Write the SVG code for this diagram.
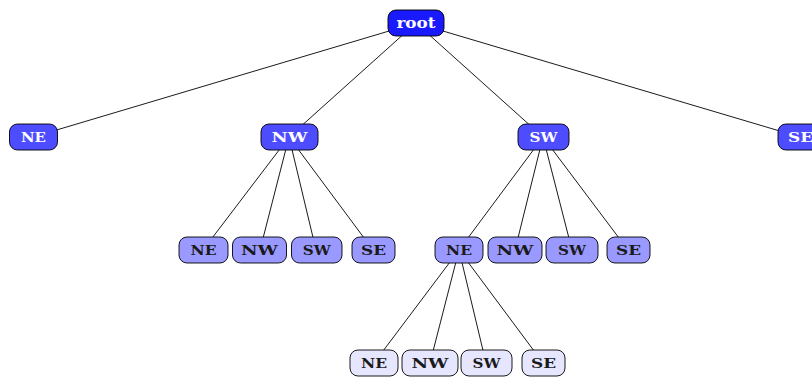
<svg xmlns="http://www.w3.org/2000/svg" width="812" height="377" viewBox="0 0 812 377">
  <style>
    .edge { stroke: #000; stroke-width: 0.9; fill: none; }
    .box { stroke: #000; stroke-width: 0.9; }
    .l0 { fill: #1a1aff; }
    .l1 { fill: #4d4dff; }
    .l2 { fill: #9999ff; }
    .l3 { fill: #e6e6ff; }
    text { font-family: "DejaVu Serif", "Liberation Serif", serif; font-weight: bold; font-size: 12.5px; text-anchor: middle; }
    .lt { fill: #fff; }
    .dt { fill: #1a1a1a; }
  </style>
  <rect width="812" height="377" fill="#fff"/>
  <g id="connectors">
    <line class="edge" x1="416" y1="23" x2="33" y2="137"/>
    <line class="edge" x1="416" y1="23" x2="289" y2="137"/>
    <line class="edge" x1="416" y1="23" x2="543" y2="137"/>
    <line class="edge" x1="416" y1="23" x2="800" y2="137"/>
    <line class="edge" x1="289" y1="137" x2="203" y2="250"/>
    <line class="edge" x1="289" y1="137" x2="260" y2="250"/>
    <line class="edge" x1="289" y1="137" x2="316" y2="250"/>
    <line class="edge" x1="289" y1="137" x2="373" y2="250"/>
    <line class="edge" x1="543" y1="137" x2="459" y2="250"/>
    <line class="edge" x1="543" y1="137" x2="515" y2="250"/>
    <line class="edge" x1="543" y1="137" x2="572" y2="250"/>
    <line class="edge" x1="543" y1="137" x2="628" y2="250"/>
    <line class="edge" x1="459" y1="250" x2="374" y2="363"/>
    <line class="edge" x1="459" y1="250" x2="430" y2="363"/>
    <line class="edge" x1="459" y1="250" x2="486" y2="363"/>
    <line class="edge" x1="459" y1="250" x2="543" y2="363"/>
  </g>
  <g id="root"><rect class="box l0" x="388" y="10" width="56" height="26" rx="8"/><text class="lt" x="416" y="27.7" style="font-size:15px" textLength="39" lengthAdjust="spacingAndGlyphs">root</text></g>
  <g id="ne"><rect class="box l1" x="9.5" y="124" width="48" height="26" rx="8"/><text class="lt" x="33.5" y="141.5" textLength="25" lengthAdjust="spacingAndGlyphs">NE</text></g>
  <g id="nw"><rect class="box l1" x="261" y="124" width="57" height="26" rx="8"/><text class="lt" x="289.5" y="141.5" textLength="36" lengthAdjust="spacingAndGlyphs">NW</text></g>
  <g id="sw"><rect class="box l1" x="518" y="124" width="51" height="26" rx="8"/><text class="lt" x="543.5" y="141.5" textLength="28" lengthAdjust="spacingAndGlyphs">SW</text></g>
  <g id="se"><rect class="box l1" x="778" y="124" width="45" height="26" rx="8"/><text class="lt" x="800.5" y="141.5" textLength="25" lengthAdjust="spacingAndGlyphs">SE</text></g>
  <g id="nw-ne"><rect class="box l2" x="179" y="237" width="49" height="26" rx="8"/><text class="dt" x="203.5" y="254.7" textLength="26" lengthAdjust="spacingAndGlyphs">NE</text></g>
  <g id="nw-nw"><rect class="box l2" x="232.5" y="237" width="54" height="26" rx="8"/><text class="dt" x="259.5" y="254.7" textLength="37" lengthAdjust="spacingAndGlyphs">NW</text></g>
  <g id="nw-sw"><rect class="box l2" x="291.5" y="237" width="50.5" height="26" rx="8"/><text class="dt" x="316.7" y="254.7" textLength="28" lengthAdjust="spacingAndGlyphs">SW</text></g>
  <g id="nw-se"><rect class="box l2" x="352" y="237" width="43" height="26" rx="8"/><text class="dt" x="373.5" y="254.7" textLength="25" lengthAdjust="spacingAndGlyphs">SE</text></g>
  <g id="sw-ne"><rect class="box l2" x="435" y="237" width="48" height="26" rx="8"/><text class="dt" x="459" y="254.7" textLength="26" lengthAdjust="spacingAndGlyphs">NE</text></g>
  <g id="sw-nw"><rect class="box l2" x="488" y="237" width="54" height="26" rx="8"/><text class="dt" x="515" y="254.7" textLength="37" lengthAdjust="spacingAndGlyphs">NW</text></g>
  <g id="sw-sw"><rect class="box l2" x="546" y="237" width="52" height="26" rx="8"/><text class="dt" x="572" y="254.7" textLength="28" lengthAdjust="spacingAndGlyphs">SW</text></g>
  <g id="sw-se"><rect class="box l2" x="607" y="237" width="43" height="26" rx="8"/><text class="dt" x="628.5" y="254.7" textLength="25" lengthAdjust="spacingAndGlyphs">SE</text></g>
  <g id="sw-ne-ne"><rect class="box l3" x="350" y="350" width="48" height="26" rx="8"/><text class="dt" x="374" y="367.7" textLength="26" lengthAdjust="spacingAndGlyphs">NE</text></g>
  <g id="sw-ne-nw"><rect class="box l3" x="402" y="350" width="56" height="26" rx="8"/><text class="dt" x="430" y="367.7" textLength="37" lengthAdjust="spacingAndGlyphs">NW</text></g>
  <g id="sw-ne-sw"><rect class="box l3" x="461" y="350" width="51" height="26" rx="8"/><text class="dt" x="486.5" y="367.7" textLength="28" lengthAdjust="spacingAndGlyphs">SW</text></g>
  <g id="sw-ne-se"><rect class="box l3" x="522" y="350" width="43" height="26" rx="8"/><text class="dt" x="543.5" y="367.7" textLength="25" lengthAdjust="spacingAndGlyphs">SE</text></g>
</svg>
